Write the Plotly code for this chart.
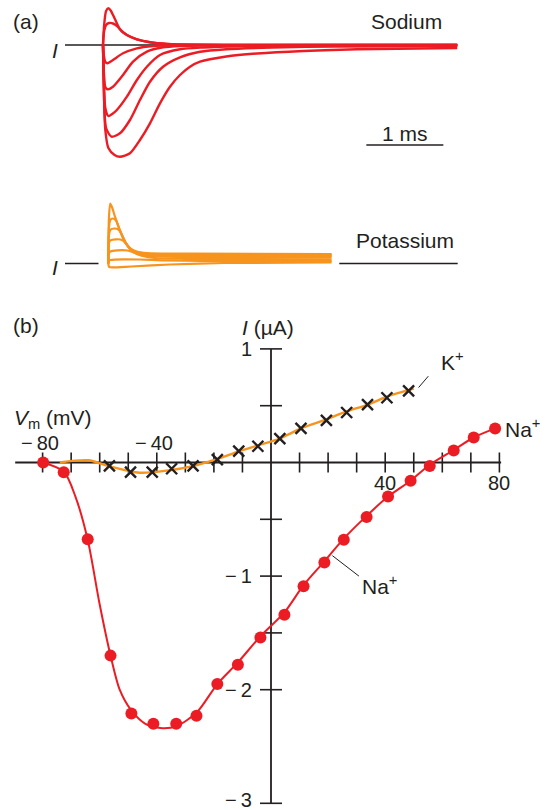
import plotly.graph_objects as go

W, H = 549, 810

RED = "#EC1C24"
ORANGE = "#F7941D"
INK = "#231F20"
FONT = "Liberation Sans, Arial, sans-serif"

# ---------------- (a) sodium current records (time in ms, current in relative units)
na_t1 = [0.0, 0.015, 0.04, 0.07, 0.10, 0.13, 0.18, 0.22, 0.31, 0.44, 0.61, 0.83, 1.2, 1.8, 4.6]
na_i1 = [0.0, 2.0, 3.4, 3.67, 3.45, 3.0, 2.17, 1.57, 1.0, 0.57, 0.27, 0.1, 0.02, 0.0, 0.0]
na_t2 = [0.0, 0.015, 0.04, 0.08, 0.13, 0.19, 0.24, 0.31, 0.44, 0.61, 0.83, 1.2, 1.8, 4.6]
na_i2 = [0.0, 1.4, 2.0, 2.2, 2.15, 1.85, 1.4, 1.0, 0.57, 0.27, 0.1, 0.02, 0.0, 0.0]
na_t3 = [0.0, 0.01, 0.03, 0.06, 0.13, 0.26, 0.44, 0.65, 0.9, 1.4, 4.6]
na_i3 = [0.0, -1.0, -1.7, -1.83, -1.5, -0.83, -0.33, -0.1, -0.03, 0.0, 0.0]
na_t4 = [0.0, 0.01, 0.03, 0.06, 0.13, 0.26, 0.39, 0.57, 0.78, 1.0, 1.5, 4.6]
na_i4 = [0.0, -2.5, -4.2, -4.43, -4.17, -3.0, -1.67, -0.67, -0.23, -0.1, -0.02, 0.0]
na_t5 = [0.0, 0.01, 0.03, 0.07, 0.12, 0.18, 0.31, 0.44, 0.57, 0.74, 1.0, 1.3, 1.8, 2.6, 4.6]
na_i5 = [0.0, -3.0, -6.3, -7.1, -6.9, -6.5, -5.17, -3.5, -2.17, -1.0, -0.43, -0.25, -0.12, -0.05, -0.03]
na_t6 = [0.0, 0.01, 0.04, 0.11, 0.22, 0.35, 0.48, 0.61, 0.78, 1.0, 1.26, 1.6, 2.2, 3.0, 4.6]
na_i6 = [0.0, -4.0, -8.3, -9.17, -8.83, -7.5, -5.5, -3.67, -2.17, -1.23, -0.67, -0.42, -0.25, -0.15, -0.1]
na_t7 = [0.0, 0.01, 0.03, 0.07, 0.15, 0.22, 0.35, 0.48, 0.61, 0.74, 0.87, 1.0, 1.13, 1.26, 1.6, 2.0, 2.6, 3.3, 4.6]
na_i7 = [0.0, -4.0, -8.5, -10.3, -11.0, -11.17, -10.83, -9.5, -7.83, -5.83, -4.17, -3.0, -2.17, -1.67, -1.15, -0.85, -0.6, -0.43, -0.3]

NA_TIMES = [na_t1, na_t2, na_t3, na_t4, na_t5, na_t6, na_t7]
NA_CURRENTS = [na_i1, na_i2, na_i3, na_i4, na_i5, na_i6, na_i7]

# ---------------- (a) potassium current records
k_t1 = [0.0, 0.008, 0.025, 0.05, 0.087, 0.15, 0.22, 0.28, 0.37, 0.5, 1.0, 2.9]
k_i1 = [0.0, 4.5, 6.0, 5.6, 4.68, 3.35, 2.18, 1.55, 1.2, 1.05, 0.98, 0.95]
k_t2 = [0.0, 0.008, 0.025, 0.06, 0.1, 0.15, 0.22, 0.28, 0.37, 0.5, 1.0, 2.9]
k_i2 = [0.0, 3.5, 4.35, 4.5, 4.3, 3.3, 2.15, 1.5, 1.1, 0.95, 0.88, 0.85]
k_t3 = [0.0, 0.008, 0.025, 0.08, 0.13, 0.16, 0.22, 0.28, 0.37, 0.5, 1.0, 2.9]
k_i3 = [0.0, 2.8, 3.35, 3.5, 3.4, 3.1, 2.1, 1.45, 1.0, 0.85, 0.78, 0.75]
k_t4 = [0.0, 0.008, 0.025, 0.1, 0.18, 0.24, 0.3, 0.37, 0.5, 1.0, 2.9]
k_i4 = [0.0, 2.0, 2.3, 2.42, 2.35, 1.9, 1.35, 0.95, 0.75, 0.66, 0.62]
k_t5 = [0.0, 0.008, 0.025, 0.12, 0.25, 0.35, 0.45, 0.6, 1.0, 2.9]
k_i5 = [0.0, 1.0, 1.2, 1.32, 1.3, 1.05, 0.75, 0.55, 0.47, 0.42]
k_t6 = [0.0, 0.008, 0.025, 0.2, 0.4, 0.7, 1.2, 2.9]
k_i6 = [0.0, 0.3, 0.35, 0.42, 0.4, 0.32, 0.27, 0.25]
k_t7 = [0.0, 0.008, 0.025, 0.3, 0.8, 1.5, 2.9]
k_i7 = [0.0, -0.3, -0.38, -0.3, -0.1, 0.05, 0.12]

K_TIMES = [k_t1, k_t2, k_t3, k_t4, k_t5, k_t6, k_t7]
K_CURRENTS = [k_i1, k_i2, k_i3, k_i4, k_i5, k_i6, k_i7]

SCALE_BAR_T0 = 3.42      # ms, left end of the 1 ms bar
SCALE_BAR_LEN = 1.0      # ms

# ---------------- (b) current-voltage relations
na_vm = [-79.8, -72.6, -64.2, -56.2, -48.9, -41.2, -33.2, -26.1, -18.8, -11.6, -3.7, 4.7,
         11.4, 18.7, 25.5, 33.5, 41.0, 48.9, 55.6, 64.0, 71.0, 78.5]
na_ua = [0.0, -0.085, -0.675, -1.70, -2.21, -2.30, -2.30, -2.23, -1.95, -1.78, -1.54, -1.34,
         -1.09, -0.88, -0.68, -0.48, -0.30, -0.16, -0.03, 0.105, 0.22, 0.30]
na_fit_vm = [-80, -72.6, -68.5, -64.2, -60, -56.2, -53, -49, -44, -38, -33, -26, -18.8, -11.6,
             -3.7, 4.7, 11.4, 18.7, 25.5, 33.5, 41, 48.9, 55.6, 64, 71, 78.5]
na_fit_ua = [0.0, -0.08, -0.3, -0.68, -1.25, -1.70, -2.0, -2.18, -2.3, -2.34, -2.32, -2.2, -1.95,
             -1.76, -1.53, -1.32, -1.08, -0.87, -0.67, -0.47, -0.30, -0.16, -0.02, 0.11, 0.22, 0.30]

k_vm = [-56.6, -49.2, -41.6, -34.8, -27.3, -18.8, -11.3, -4.6, 3.1, 10.5, 19.4, 26.5, 33.8, 40.6, 48.2]
k_ua = [-0.03, -0.085, -0.085, -0.055, -0.03, 0.026, 0.10, 0.143, 0.21, 0.30, 0.37, 0.44, 0.51, 0.57, 0.63]
k_fit_vm = [-74, -64, -57, -46, -36, -27, -19, -11, -4.6, 3, 10.5, 19.5, 26.5, 34, 40.6, 50]
k_fit_ua = [0.0, 0.02, -0.03, -0.09, -0.07, -0.03, 0.03, 0.1, 0.15, 0.21, 0.3, 0.38, 0.45, 0.51, 0.58, 0.65]

VM_TICKS = [-80, -70, -60, -50, -40, -30, -20, -10, 10, 20, 30, 40, 50, 60, 70, 80]
VM_LABELS = {-80: "\u2212\u200980", -40: "\u2212\u200940", 40: "40", 80: "80"}
UA_TICKS = [1, 0.5, -0.5, -1, -1.5, -2, -3]
UA_LABELS = {1: "1", -1: "\u2212\u20091", -2: "\u2212\u20092", -3: "\u2212\u20093"}
VM_AXIS_SPAN = (-89.6, 80.6)
UA_AXIS_SPAN = (-3, 1)


# ---------------- pixel geometry of the three panels
def xrange_for(origin_px, px_per_unit):
    return [(0 - origin_px) / px_per_unit, (W - origin_px) / px_per_unit]


def yrange_for(top_px, bottom_px, origin_px, px_per_unit):
    return [(origin_px - bottom_px) / px_per_unit, (origin_px - top_px) / px_per_unit]


def ydomain(top_px, bottom_px):
    return [1 - bottom_px / H, 1 - top_px / H]


NA_BOX = (0, 175)
K_BOX = (180, 295)
IV_BOX = (300, 810)

PX_PER_MS = 77.0
NA_T0_PX, NA_I0_PX, NA_PX_PER_UNIT = 103.0, 45.0, 10.0
K_T0_PX, K_I0_PX, K_PX_PER_UNIT = 108.3, 263.5, 10.0
VM0_PX, PX_PER_MV = 271.0, 2.855
UA0_PX, PX_PER_UA = 462.5, 113.6

fig = go.Figure()

for t, i in zip(NA_TIMES, NA_CURRENTS):
    fig.add_trace(go.Scatter(x=t, y=i, mode="lines", xaxis="x", yaxis="y",
                             line=dict(color=RED, width=2.4, shape="spline", smoothing=0.7),
                             hoverinfo="skip", showlegend=False))

for t, i in zip(K_TIMES, K_CURRENTS):
    fig.add_trace(go.Scatter(x=t, y=i, mode="lines", xaxis="x2", yaxis="y2",
                             line=dict(color=ORANGE, width=2.2, shape="spline", smoothing=0.7),
                             hoverinfo="skip", showlegend=False))

fig.add_trace(go.Scatter(x=k_fit_vm, y=k_fit_ua, mode="lines", xaxis="x3", yaxis="y3",
                         line=dict(color=ORANGE, width=2.4, shape="spline", smoothing=0.8),
                         hoverinfo="skip", showlegend=False))
fig.add_trace(go.Scatter(x=na_fit_vm, y=na_fit_ua, mode="lines", xaxis="x3", yaxis="y3",
                         line=dict(color=RED, width=2.0, shape="spline", smoothing=0.8),
                         hoverinfo="skip", showlegend=False))
fig.add_trace(go.Scatter(x=k_vm, y=k_ua, mode="markers", xaxis="x3", yaxis="y3",
                         marker=dict(symbol="x-thin", size=11, line=dict(color=INK, width=2.4)),
                         hoverinfo="skip", showlegend=False))
fig.add_trace(go.Scatter(x=na_vm, y=na_ua, mode="markers", xaxis="x3", yaxis="y3",
                         marker=dict(symbol="circle", size=12, color=RED, line=dict(width=0)),
                         hoverinfo="skip", showlegend=False))

shapes = []


def seg(xref, yref, x0, y0, x1, y1, width=1.6, color=INK, layer="below"):
    shapes.append(dict(type="line", xref=xref, yref=yref, x0=x0, y0=y0, x1=x1, y1=y1,
                       line=dict(color=color, width=width), layer=layer))


# zero-current baselines
seg("x", "y", (65 - NA_T0_PX) / PX_PER_MS, 0, 4.6, 0, width=1.6)
seg("x2", "y2", (65 - K_T0_PX) / PX_PER_MS, 0, (98.5 - K_T0_PX) / PX_PER_MS, 0, width=1.4)
seg("x2", "y2", (339.3 - K_T0_PX) / PX_PER_MS, 0, (457.7 - K_T0_PX) / PX_PER_MS, 0, width=1.4)
# time scale bar
seg("x", "y", SCALE_BAR_T0, -10, SCALE_BAR_T0 + SCALE_BAR_LEN, -10, width=1.6, layer="above")

# crossing axes of the I-V plot
seg("x3", "y3", VM_AXIS_SPAN[0], 0, VM_AXIS_SPAN[1], 0, width=1.8)
seg("x3", "y3", 0, UA_AXIS_SPAN[0], 0, UA_AXIS_SPAN[1], width=1.8)
vt = 10 / PX_PER_UA
for v in VM_TICKS:
    seg("x3", "y3", v, -vt, v, vt, width=1.6)
ht = 11 / PX_PER_MV
for u in UA_TICKS:
    seg("x3", "y3", -ht, u, ht, u, width=1.6)
# leader lines
seg("x3", "y3", 51.7, 0.66, 55.1, 0.76, width=1.0, layer="above")
seg("x3", "y3", 21.5, -0.82, 30.8, -1.0, width=1.0, layer="above")

ann = []


def txt(x, y, s, xref="paper", yref="paper", size=21, xanchor="center", yanchor="middle", **kw):
    ann.append(dict(x=x, y=y, xref=xref, yref=yref, text=s, showarrow=False,
                    xanchor=xanchor, yanchor=yanchor,
                    font=dict(family=FONT, size=size, color=INK), **kw))


def px(x, y):
    return x / W, 1 - y / H


txt(*px(26, 22), "(a)")
txt(*px(406, 22), "Sodium")
txt(*px(55, 50), "<i>I</i>")
txt(SCALE_BAR_T0 + SCALE_BAR_LEN / 2, -8.8, "1 ms", xref="x", yref="y")
txt(*px(55, 268), "<i>I</i>")
txt(*px(405, 240), "Potassium")
txt(*px(26, 325), "(b)")
txt(*px(268, 327), "<i>I</i> (\u00b5A)")
txt(*px(12, 419), "<i>V</i><sub>m</sub> (mV)", xanchor="left")

for v, s in VM_LABELS.items():
    if v < 0:
        txt(v, 0, s, xref="x3", yref="y3", size=20, yshift=20, xshift=-3)
    else:
        txt(v, 0, s, xref="x3", yref="y3", size=20, yshift=-20)
for u, s in UA_LABELS.items():
    shift = 3 if u == -3 else 0
    txt(0, u, s, xref="x3", yref="y3", size=20, xanchor="right", xshift=-17, yshift=shift)

txt(58.8, 0.89, "K<sup>+</sup>", xref="x3", yref="y3", xanchor="left")
txt(81.3, 0.30, "Na<sup>+</sup>", xref="x3", yref="y3", xanchor="left")
txt(31.2, -1.08, "Na<sup>+</sup>", xref="x3", yref="y3", xanchor="left")

hidden = dict(visible=False, fixedrange=True)
fig.update_layout(
    width=W, height=H,
    margin=dict(l=0, r=0, t=0, b=0),
    paper_bgcolor="white",
    plot_bgcolor="rgba(0,0,0,0)",
    showlegend=False,
    xaxis=dict(domain=[0, 1], range=xrange_for(NA_T0_PX, PX_PER_MS), anchor="y", **hidden),
    yaxis=dict(domain=ydomain(*NA_BOX), anchor="x",
               range=yrange_for(NA_BOX[0], NA_BOX[1], NA_I0_PX, NA_PX_PER_UNIT), **hidden),
    xaxis2=dict(domain=[0, 1], range=xrange_for(K_T0_PX, PX_PER_MS), anchor="y2", **hidden),
    yaxis2=dict(domain=ydomain(*K_BOX), anchor="x2",
                range=yrange_for(K_BOX[0], K_BOX[1], K_I0_PX, K_PX_PER_UNIT), **hidden),
    xaxis3=dict(domain=[0, 1], range=xrange_for(VM0_PX, PX_PER_MV), anchor="y3", **hidden),
    yaxis3=dict(domain=ydomain(*IV_BOX), anchor="x3",
                range=yrange_for(IV_BOX[0], IV_BOX[1], UA0_PX, PX_PER_UA), **hidden),
    shapes=shapes,
    annotations=ann,
)

fig.write_html("out.html")
